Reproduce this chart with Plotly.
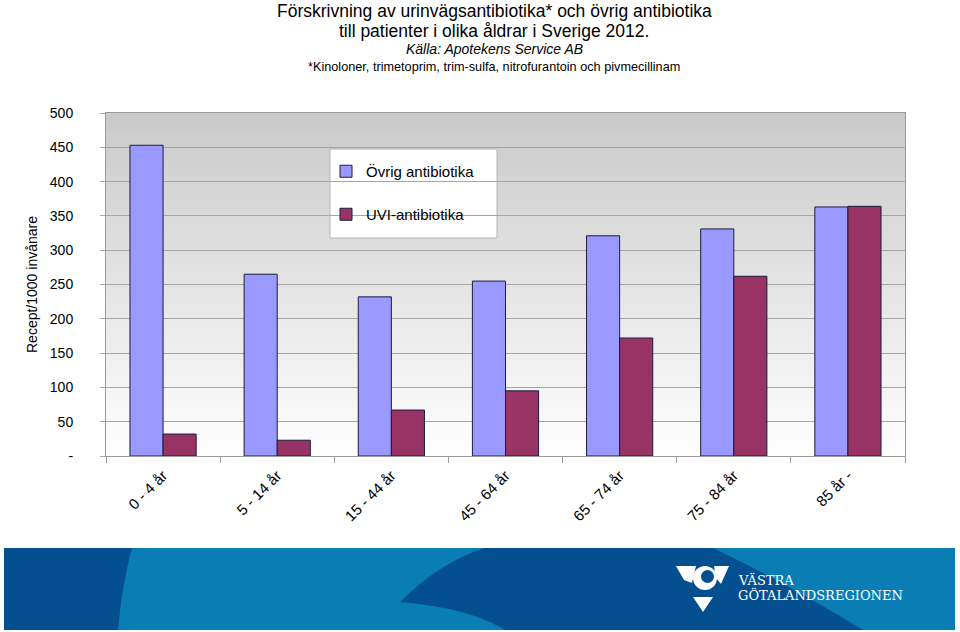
import plotly.graph_objects as go

CATEGORIES = ["0 - 4 år", "5 - 14 år", "15 - 44 år", "45 - 64 år",
              "65 - 74 år", "75 - 84 år", "85 år -"]
OVRIG = [453, 265, 232, 255, 321, 331, 363]
UVI = [32, 23, 67, 95, 172, 262, 364]
Y_TICKS = [0, 50, 100, 150, 200, 250, 300, 350, 400, 450, 500]
Y_LABELS = ["-", "50", "100", "150", "200", "250", "300", "350", "400", "450", "500"]

TITLE_1 = "Förskrivning av urinvägsantibiotika* och övrig antibiotika"
TITLE_2 = "till patienter i olika åldrar i Sverige 2012."
SOURCE = "Källa: Apotekens Service AB"
FOOTNOTE = "*Kinoloner, trimetoprim, trim-sulfa, nitrofurantoin och pivmecillinam"

W, H = 960, 632
L, R, T, B = 106, 905, 113, 456
FONT = "Liberation Sans, Arial, sans-serif"
DARK_BLUE = "#044f8f"


def px(x):
    return (x - L) / (R - L)


def py(y):
    return (B - y) / (B - T)


def path(points):
    # points in pixels -> svg path in paper coords
    out = []
    for cmd, *xy in points:
        coords = " ".join(f"{px(xy[i]):.4f},{py(xy[i + 1]):.4f}" for i in range(0, len(xy), 2))
        out.append(f"{cmd}{coords}")
    return " ".join(out) + " Z"


def poly(points, color):
    return dict(type="path", xref="paper", yref="paper", fillcolor=color,
                line=dict(width=0), path=path(points))


fig = go.Figure()
fig.add_bar(x=CATEGORIES, y=OVRIG, name="Övrig antibiotika",
            marker=dict(color="#9999FF", line=dict(color="#1c1c3c", width=1)),
            legend="legend")
fig.add_bar(x=CATEGORIES, y=UVI, name="UVI-antibiotika",
            marker=dict(color="#993366", line=dict(color="#1c1c3c", width=1)),
            legend="legend2")

shapes = []
# gradient plot background
n = 60
for i in range(n):
    g = int(255 - 53 * (i + 0.5) / n)
    shapes.append(dict(type="rect", xref="paper", yref="paper", x0=0, x1=1,
                       y0=i / n, y1=(i + 1) / n + 0.002, layer="below",
                       line=dict(width=0), fillcolor=f"rgb({g},{g},{g})"))

# legend box
shapes.append(dict(type="rect", xref="paper", yref="paper",
                   x0=px(330), x1=px(497), y0=py(238), y1=py(149),
                   fillcolor="white", line=dict(color="#b5b5b5", width=1), layer="between"))

# bottom banner
shapes.append(dict(type="rect", xref="paper", yref="paper",
                   x0=px(4), x1=px(955), y0=py(630), y1=py(548),
                   fillcolor="#0a7db5", line=dict(width=0)))
shapes.append(poly([("M", 4, 548), ("L", 132, 548), ("Q", 122, 585, 118, 630),
                    ("L", 4, 630)], DARK_BLUE))
shapes.append(poly([("M", 400, 602), ("Q", 440, 562, 485, 548), ("L", 713, 548),
                    ("Q", 790, 585, 863, 630), ("L", 505, 630),
                    ("Q", 470, 608, 400, 602)], DARK_BLUE))
# logo
shapes.append(poly([("M", 676, 566), ("L", 696, 566), ("L", 692, 583), ("L", 684, 580)], "white"))
shapes.append(poly([("M", 714, 566), ("L", 729, 566), ("L", 721, 584), ("L", 716, 578)], "white"))
shapes.append(dict(type="circle", xref="paper", yref="paper", fillcolor="white",
                   line=dict(width=0), x0=px(693), x1=px(717), y0=py(590), y1=py(566)))
shapes.append(dict(type="circle", xref="paper", yref="paper", fillcolor=DARK_BLUE,
                   line=dict(width=0), x0=px(701), x1=px(714), y0=py(583), y1=py(570)))
shapes.append(poly([("M", 693, 597), ("L", 713, 597), ("L", 703, 612)], "white"))

annotations = [
    dict(text=TITLE_1, x=px(494), y=py(11), font=dict(size=17.5)),
    dict(text=TITLE_2, x=px(494), y=py(31), font=dict(size=17.5)),
    dict(text=f"<i>{SOURCE}</i>", x=px(494), y=py(49), font=dict(size=14)),
    dict(text=FOOTNOTE, x=px(494), y=py(67), font=dict(size=12.7)),
    dict(text="VÄSTRA", x=px(736), y=py(580), xanchor="left",
         font=dict(size=13, color="white", family="DejaVu Serif")),
    dict(text="GÖTALANDSREGIONEN", x=px(736), y=py(595), xanchor="left",
         font=dict(size=13, color="white", family="DejaVu Serif")),
]
for a in annotations:
    a.setdefault("xanchor", "center")
    a.update(xref="paper", yref="paper", yanchor="middle", showarrow=False)

fig.update_layout(
    width=W, height=H,
    margin=dict(l=L, r=W - R, t=T, b=H - B),
    paper_bgcolor="white", plot_bgcolor="white",
    font=dict(family=FONT, size=14, color="black"),
    barmode="group", bargap=0.42, bargroupgap=0,
    showlegend=True,
    shapes=shapes, annotations=annotations,
    legend=dict(x=px(326), y=py(155), xanchor="left", yanchor="top",
                bgcolor="rgba(0,0,0,0)", font=dict(size=15)),
    legend2=dict(x=px(326), y=py(198), xanchor="left", yanchor="top",
                 bgcolor="rgba(0,0,0,0)", font=dict(size=15)),
)
fig.update_xaxes(type="category", tickson="boundaries", ticks="outside", ticklen=6,
                 tickcolor="#999999", showline=True, linecolor="#999999", mirror=True,
                 showgrid=False, tickangle=-45, tickfont=dict(size=15),
                 ticklabelstandoff=4)
fig.update_yaxes(range=[0, 500], tickvals=Y_TICKS, ticktext=Y_LABELS,
                 ticks="outside", ticklen=5, tickcolor="#a6a6a6",
                 showgrid=True, gridcolor="#a6a6a6", gridwidth=1,
                 showline=True, linecolor="#999999", mirror=True,
                 zeroline=False, ticklabelstandoff=24, tickfont=dict(size=14),
                 title=dict(text="Recept/1000 invånare", font=dict(size=14), standoff=8))

# drop the default 8px page margin so the figure fills the window
fig.write_html("out.html", config={"displayModeBar": False},
               post_script="document.body.style.margin='0';")
